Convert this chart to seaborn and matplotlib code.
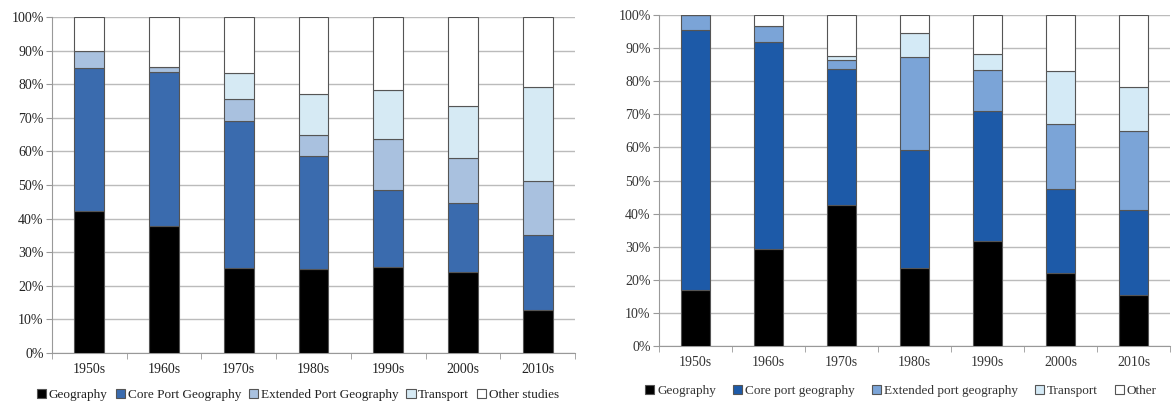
import matplotlib
matplotlib.use("Agg")
import matplotlib.pyplot as plt
import numpy as np
import seaborn as sns
from matplotlib.ticker import FuncFormatter, FixedLocator

decades = ["1950s", "1960s", "1970s", "1980s", "1990s", "2000s", "2010s"]

# left chart, share of each category (%)
left_labels = ["Geography", "Core Port Geography", "Extended Port Geography", "Transport", "Other studies"]
left_geo = [42.4, 37.8, 25.2, 25.0, 25.6, 24.0, 12.8]
left_core = [42.5, 45.9, 43.9, 33.7, 22.8, 20.6, 22.4]
left_ext = [5.0, 1.5, 6.6, 6.3, 15.3, 13.3, 16.0]
left_trans = [0.0, 0.0, 7.7, 12.2, 14.5, 15.6, 27.9]
left_other = [10.1, 14.8, 16.6, 22.8, 21.8, 26.5, 20.9]

# right chart
right_labels = ["Geography", "Core port geography", "Extended port geography", "Transport", "Other"]
right_geo = [17.0, 29.2, 42.7, 23.7, 31.6, 22.2, 15.3]
right_core = [78.6, 62.7, 40.9, 35.6, 39.5, 25.3, 25.7]
right_ext = [4.4, 4.8, 2.7, 28.0, 12.4, 19.7, 23.9]
right_trans = [0.0, 0.0, 1.2, 7.4, 4.7, 15.9, 13.3]
right_other = [0.0, 3.3, 12.5, 5.3, 11.8, 16.9, 21.8]

left_colors = ["#000000", "#3A6BAE", "#A9C1DF", "#D6EAF4", "#FFFFFF"]
right_colors = ["#000000", "#1D5AA8", "#7BA4D7", "#D4EAF6", "#FFFFFF"]

plt.rcParams["font.family"] = ["Liberation Serif", "DejaVu Serif"]

fig = plt.figure(figsize=(11.73, 4.03), dpi=100)
ax1 = fig.add_axes([52 / 1173, 1 - 353 / 403, 523 / 1173, 336 / 403])
ax2 = fig.add_axes([659 / 1173, 1 - 346 / 403, 511 / 1173, 331 / 403])


def draw(ax, series, labels, colors, legend_xy, col_gap, tcolor):
    bottom = np.zeros(len(decades))
    for vals, lab, col in zip(series, labels, colors):
        sns.barplot(x=decades, y=vals, bottom=bottom, color=col, width=0.4,
                    edgecolor="#555555", linewidth=0.8, ax=ax, label=lab,
                    saturation=1, zorder=3)
        bottom = bottom + np.array(vals)
    ax.set_ylim(0, 100)
    ax.set_xlim(-0.5, len(decades) - 0.5)
    ax.yaxis.set_major_locator(FixedLocator(np.arange(0, 101, 10)))
    ax.yaxis.set_major_formatter(FuncFormatter(lambda v, p: f"{int(v)}%"))
    ax.grid(axis="y", color="#BBBBBB", linewidth=1, zorder=0)
    ax.set_axisbelow(True)
    for s in ["top", "right"]:
        ax.spines[s].set_visible(False)
    ax.spines["left"].set_color("#999999")
    ax.spines["bottom"].set_color("#999999")
    ax.tick_params(axis="y", length=4, color="#999999", labelsize=10,
                   pad=2, labelcolor=tcolor)
    ax.tick_params(axis="x", length=0, labelsize=10, pad=7, labelcolor=tcolor)
    ax.set_xticks(np.arange(-0.5, len(decades)), minor=True)
    ax.tick_params(axis="x", which="minor", length=4, color="#999999")
    ax.set_xlabel("")
    ax.set_ylabel("")
    handles, labs = ax.get_legend_handles_labels()
    if ax.legend_:
        ax.legend_.remove()
    leg = fig.legend(handles, labs, loc="center", bbox_to_anchor=legend_xy,
                     ncol=5, frameon=False, handlelength=0.7,
                     handleheight=0.7, handletextpad=0.2, columnspacing=col_gap,
                     prop={"size": 9.5})
    for t in leg.get_texts():
        t.set_color(tcolor)


draw(ax1, [left_geo, left_core, left_ext, left_trans, left_other],
     left_labels, left_colors, (298 / 1173, 1 - 395 / 403), 0.6, "#222222")
draw(ax2, [right_geo, right_core, right_ext, right_trans, right_other],
     right_labels, right_colors, (901 / 1173, 1 - 391 / 403), 1.3, "#333333")

fig.savefig("out.png", dpi=100)
